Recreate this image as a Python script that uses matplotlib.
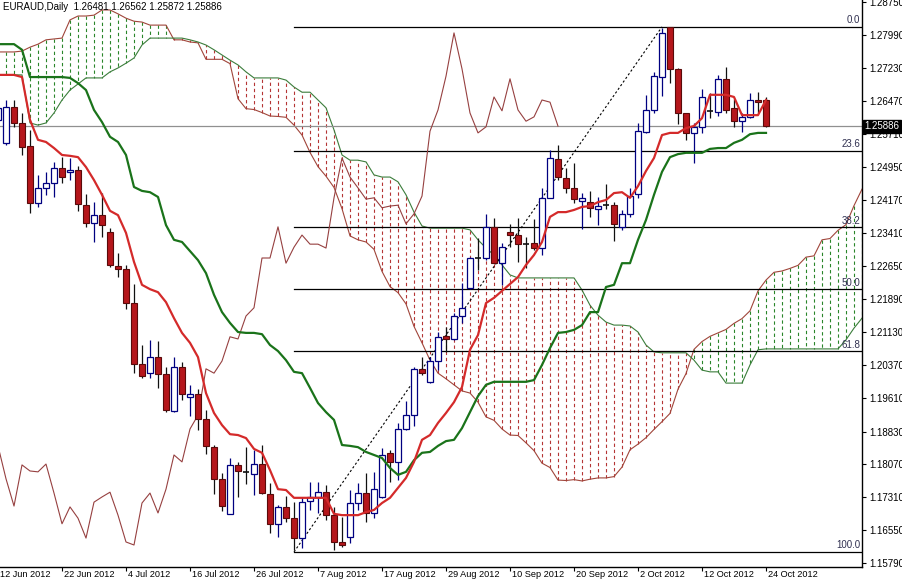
import matplotlib
matplotlib.use("Agg")
import matplotlib.pyplot as plt
import numpy as np
from matplotlib.patches import Rectangle
from matplotlib.collections import LineCollection
import matplotlib.transforms as mtransforms

plt.rcParams['font.family'] = ['Liberation Sans', 'DejaVu Sans']

symbol_text = "EURAUD,Daily  1.26481 1.26562 1.25872 1.25886"

opens = [1.2603, 1.2550, 1.2633, 1.2596, 1.2543, 1.2411, 1.2446, 1.2457, 1.2492, 1.2483,
         1.2487, 1.2406, 1.2365, 1.2383, 1.2344, 1.2266, 1.2259, 1.2180, 1.2039, 1.2018,
         1.2055, 1.2016, 1.1931, 1.2032, 1.1963, 1.1970, 1.1912, 1.1847, 1.1774, 1.1693,
         1.1806, 1.1790, 1.1785, 1.1808, 1.1739, 1.1670, 1.1709, 1.1683, 1.1637, 1.1723,
         1.1732, 1.1743, 1.1690, 1.1628, 1.1640, 1.1718, 1.1741, 1.1695, 1.1732, 1.1834,
         1.1813, 1.1889, 1.1921, 1.2028, 1.1998, 1.2046, 1.2104, 1.2097, 1.2150, 1.2215,
         1.2284, 1.2284, 1.2356, 1.2272, 1.2344, 1.2337, 1.2316, 1.2319, 1.2307, 1.2423,
         1.2513, 1.2469, 1.2446, 1.2416, 1.2413, 1.2397, 1.2406, 1.2406, 1.2356, 1.2386,
         1.2432, 1.2575, 1.2626, 1.2702, 1.2818, 1.2721, 1.2619, 1.2573, 1.2587, 1.2624,
         1.2621, 1.2698, 1.2631, 1.2600, 1.2610, 1.2649, 1.26481]
highs = [1.2649, 1.2649, 1.2649, 1.2619, 1.2580, 1.2476, 1.2483, 1.2506, 1.2517, 1.2515,
         1.2497, 1.2432, 1.2413, 1.2434, 1.2353, 1.2296, 1.2268, 1.2224, 1.2083, 1.2095,
         1.2092, 1.2032, 1.2055, 1.2044, 1.1991, 1.1981, 1.1933, 1.1852, 1.1787, 1.1822,
         1.1813, 1.1847, 1.1841, 1.1852, 1.1764, 1.1713, 1.1734, 1.1720, 1.1732, 1.1767,
         1.1767, 1.1760, 1.1709, 1.1686, 1.1748, 1.1764, 1.1787, 1.1790, 1.1845, 1.1841,
         1.1903, 1.1954, 1.2032, 1.2055, 1.2055, 1.2113, 1.2125, 1.2157, 1.2226, 1.2286,
         1.2330, 1.2386, 1.2376, 1.2319, 1.2363, 1.2376, 1.2333, 1.2374, 1.2446, 1.2534,
         1.2545, 1.2492, 1.2503, 1.2434, 1.2439, 1.2425, 1.2455, 1.2413, 1.2395, 1.2446,
         1.2596, 1.2661, 1.2714, 1.2815, 1.2818, 1.2723, 1.2619, 1.2596, 1.2674, 1.2665,
         1.2707, 1.2725, 1.2651, 1.2619, 1.2665, 1.2667, 1.26562]
lows = [1.2587, 1.2545, 1.2587, 1.2522, 1.2388, 1.2402, 1.2430, 1.2425, 1.2457, 1.2464,
        1.2393, 1.2356, 1.2321, 1.2333, 1.2263, 1.2240, 1.2166, 1.2018, 1.2007, 1.2007,
        1.1984, 1.1928, 1.1928, 1.1956, 1.1919, 1.1887, 1.1831, 1.1739, 1.1700, 1.1693,
        1.1732, 1.1762, 1.1737, 1.1739, 1.1649, 1.1640, 1.1674, 1.1610, 1.1614, 1.1702,
        1.1695, 1.1679, 1.1610, 1.1616, 1.1626, 1.1702, 1.1674, 1.1683, 1.1730, 1.1767,
        1.1771, 1.1887, 1.1896, 1.2014, 1.1995, 1.2025, 1.2067, 1.2095, 1.2134, 1.2212,
        1.2256, 1.2279, 1.2272, 1.2222, 1.2309, 1.2275, 1.2261, 1.2303, 1.2291, 1.2423,
        1.2464, 1.2434, 1.2411, 1.2351, 1.2379, 1.2360, 1.2397, 1.2323, 1.2349, 1.2379,
        1.2423, 1.2573, 1.2619, 1.2658, 1.2688, 1.2594, 1.2557, 1.2503, 1.2573, 1.2607,
        1.2612, 1.2619, 1.2587, 1.2575, 1.2607, 1.2619, 1.25872]
closes = [1.2631, 1.2633, 1.2596, 1.2540, 1.2411, 1.2446, 1.2457, 1.2492, 1.2471, 1.2487,
          1.2409, 1.2365, 1.2383, 1.2360, 1.2268, 1.2259, 1.2180, 1.2039, 1.2011, 1.2055,
          1.2016, 1.1933, 1.2032, 1.1970, 1.1970, 1.1912, 1.1850, 1.1774, 1.1711, 1.1806,
          1.1792, 1.1790, 1.1808, 1.1741, 1.1670, 1.1709, 1.1683, 1.1637, 1.1720, 1.1732,
          1.1743, 1.1690, 1.1628, 1.1621, 1.1718, 1.1741, 1.1695, 1.1750, 1.1829, 1.1813,
          1.1889, 1.1921, 1.2028, 1.2018, 1.2046, 1.2102, 1.2097, 1.2150, 1.2169, 1.2284,
          1.2284, 1.2356, 1.2272, 1.2309, 1.2337, 1.2316, 1.2316, 1.2307, 1.2423, 1.2515,
          1.2471, 1.2446, 1.2420, 1.2423, 1.2400, 1.2404, 1.2406, 1.2363, 1.2386, 1.2427,
          1.2577, 1.2626, 1.2704, 1.2804, 1.2721, 1.2619, 1.2573, 1.2587, 1.2656, 1.2624,
          1.2698, 1.2626, 1.2600, 1.2610, 1.2649, 1.2644, 1.25886]

tenkan = [1.2707, 1.2707, 1.2707, 1.2702, 1.2603, 1.2557, 1.2552, 1.2538, 1.2522, 1.2520,
          1.2517, 1.2494, 1.2464, 1.2430, 1.2393, 1.2383, 1.2342, 1.2275, 1.2222, 1.2212,
          1.2205, 1.2182, 1.2145, 1.2111, 1.2088, 1.2055, 1.1972, 1.1926, 1.1898, 1.1877,
          1.1875, 1.1868, 1.1843, 1.1834, 1.1794, 1.1750, 1.1748, 1.1730, 1.1730, 1.1730,
          1.1730, 1.1730, 1.1693, 1.1690, 1.1690, 1.1690, 1.1697, 1.1702, 1.1718, 1.1730,
          1.1753, 1.1776, 1.1813, 1.1864, 1.1875, 1.1903, 1.1926, 1.1951, 1.1986, 1.2072,
          1.2106, 1.2180, 1.2192, 1.2208, 1.2224, 1.2240, 1.2268, 1.2291, 1.2321, 1.2379,
          1.2390, 1.2390, 1.2395, 1.2402, 1.2404, 1.2413, 1.2418, 1.2434, 1.2436, 1.2423,
          1.2450, 1.2485, 1.2515, 1.2568, 1.2573, 1.2573, 1.2584, 1.2589, 1.2607, 1.2661,
          1.2661, 1.2661, 1.2656, 1.2614, 1.2614, 1.2614, 1.2649]
kijun = [1.2778, 1.2778, 1.2778, 1.2765, 1.2702, 1.2702, 1.2702, 1.2702, 1.2702, 1.2700,
         1.2688, 1.2672, 1.2626, 1.2598, 1.2564, 1.2552, 1.2522, 1.2448, 1.2439, 1.2436,
         1.2425, 1.2360, 1.2326, 1.2321, 1.2300, 1.2279, 1.2249, 1.2199, 1.2159, 1.2134,
         1.2113, 1.2111, 1.2111, 1.2108, 1.2083, 1.2069, 1.2048, 1.2021, 1.2018, 1.1984,
         1.1949, 1.1928, 1.1910, 1.1852, 1.1850, 1.1847, 1.1836, 1.1829, 1.1822, 1.1799,
         1.1783, 1.1790, 1.1817, 1.1834, 1.1836, 1.1850, 1.1861, 1.1864, 1.1891, 1.1928,
         1.1965, 1.1991, 1.1998, 1.1998, 1.1998, 1.1998, 1.1998, 1.2002, 1.2037, 1.2076,
         1.2111, 1.2113, 1.2118, 1.2129, 1.2159, 1.2159, 1.2217, 1.2222, 1.2272, 1.2272,
         1.2326, 1.2372, 1.2430, 1.2483, 1.2517, 1.2524, 1.2527, 1.2527, 1.2527, 1.2536,
         1.2538, 1.2538, 1.2550, 1.2557, 1.2570, 1.2573, 1.2573]

span_a = [1.2760, 1.2760, 1.2760, 1.2762, 1.2771, 1.2778, 1.2788, 1.2790, 1.2792, 1.2834,
          1.2843, 1.2843, 1.2845, 1.2857, 1.2857, 1.2848, 1.2838, 1.2831, 1.2829, 1.2822,
          1.2822, 1.2822, 1.2788, 1.2788, 1.2783, 1.2781, 1.2743, 1.2743, 1.2743, 1.2733,
          1.2652, 1.2629, 1.2627, 1.2620, 1.2612, 1.2611, 1.2609, 1.2591, 1.2568, 1.2528,
          1.2495, 1.2473, 1.2447, 1.2398, 1.2335, 1.2326, 1.2321, 1.2304, 1.2253, 1.2218,
          1.2204, 1.2178, 1.2126, 1.2088, 1.2048, 1.2018, 1.2005, 1.1991, 1.1977, 1.1972,
          1.1951, 1.1917, 1.1909, 1.1889, 1.1875, 1.1874, 1.1857, 1.1839, 1.1810, 1.1800,
          1.1771, 1.1770, 1.1772, 1.1769, 1.1773, 1.1776, 1.1776, 1.1779, 1.1801, 1.1841,
          1.1854, 1.1869, 1.1888, 1.1906, 1.1925, 1.1981, 1.2017, 1.2073, 1.2091, 1.2103,
          1.2111, 1.2119, 1.2133, 1.2144, 1.2162, 1.2208, 1.2233, 1.2251, 1.2254, 1.2260,
          1.2267, 1.2286, 1.2289, 1.2326, 1.2329, 1.2348, 1.2361, 1.2405, 1.2443]
span_b = [1.2707, 1.2707, 1.2707, 1.2707, 1.2596, 1.2591, 1.2596, 1.2619, 1.2649, 1.2672,
          1.2686, 1.2700, 1.2700, 1.2700, 1.2714, 1.2723, 1.2734, 1.2746, 1.2776, 1.2792,
          1.2792, 1.2792, 1.2792, 1.2792, 1.2788, 1.2783, 1.2776, 1.2765, 1.2753, 1.2741,
          1.2730, 1.2714, 1.2700, 1.2700, 1.2700, 1.2700, 1.2695, 1.2679, 1.2667, 1.2667,
          1.2649, 1.2631, 1.2580, 1.2522, 1.2510, 1.2510, 1.2506, 1.2476, 1.2471, 1.2471,
          1.2460, 1.2430, 1.2390, 1.2358, 1.2353, 1.2353, 1.2353, 1.2353, 1.2353, 1.2349,
          1.2326, 1.2307, 1.2291, 1.2268, 1.2245, 1.2238, 1.2238, 1.2238, 1.2238, 1.2238,
          1.2238, 1.2238, 1.2238, 1.2210, 1.2175, 1.2152, 1.2136, 1.2129, 1.2129, 1.2127,
          1.2113, 1.2083, 1.2067, 1.2065, 1.2065, 1.2065, 1.2065, 1.2048, 1.2025, 1.2021,
          1.2021, 1.1995, 1.1995, 1.1995, 1.2037, 1.2072, 1.2074, 1.2074, 1.2074, 1.2074,
          1.2074, 1.2074, 1.2074, 1.2074, 1.2074, 1.2074, 1.2095, 1.2122, 1.2145]
chikou_shift = 26

date_labels = ["12 Jun 2012", "22 Jun 2012", "4 Jul 2012", "16 Jul 2012", "26 Jul 2012",
               "7 Aug 2012", "17 Aug 2012", "29 Aug 2012", "10 Sep 2012", "20 Sep 2012",
               "2 Oct 2012", "12 Oct 2012", "24 Oct 2012"]
date_label_bars = [0, 8, 16, 24, 32, 40, 48, 56, 64, 72, 80, 88, 96]

price_ticks = [1.28750, 1.27990, 1.27230, 1.26470, 1.25710, 1.24950, 1.24170, 1.23410,
               1.22650, 1.21890, 1.21130, 1.20370, 1.19610, 1.18830, 1.18070, 1.17310,
               1.16550, 1.15790]

fib_high = 1.2818
fib_low = 1.1605
fib_levels = [0.0, 23.6, 38.2, 50.0, 61.8, 100.0]
fib_level_labels = ["0.0", "23.6", "38.2", "50.0", "61.8", "100.0"]
fib_start_bar = 37
fib_end_bar = 83

# ---------------------------------------------------------------
W, H = 903, 582
fig = plt.figure(figsize=(W / 100, H / 100), dpi=100)
fig.patch.set_facecolor('white')
ax = fig.add_axes([0, 15 / H, 862 / W, 567 / H])
ax.set_facecolor('white')
ax.set_xlim(0.25, 108.0)
ax.set_ylim(1.15702, 1.2880)

# cloud hatching
a = np.array(span_a)
b = np.array(span_b)
xc = np.arange(len(a))
green_segs = [[(i, a[i]), (i, b[i])] for i in xc if a[i] >= b[i]]
red_segs = [[(i, a[i]), (i, b[i])] for i in xc if a[i] < b[i]]
ax.add_collection(LineCollection(green_segs, colors='#2a862a', linewidths=0.8,
                                 linestyles=[(0, (3, 2.5))], zorder=1))
ax.add_collection(LineCollection(red_segs, colors='#b53535', linewidths=0.8,
                                 linestyles=[(0, (3, 2.5))], zorder=1))
ax.plot(xc, a, color='#a0453a', lw=0.8, zorder=1.5)
ax.plot(xc, b, color='#3b7d3b', lw=0.8, zorder=1.5)

# fibonacci
for lvl, lab in zip(fib_levels, fib_level_labels):
    p = fib_high - (fib_high - fib_low) * lvl / 100.0
    ax.plot([fib_start_bar, 109], [p, p], color='black', lw=0.9, zorder=2)
    ax.text(107.75, p + 0.0004, lab, ha='right', va='bottom', fontsize=7,
            color='#303050', zorder=2)
ax.plot([fib_start_bar, fib_end_bar], [fib_low, fib_high], color='black', lw=0.8,
        ls=(0, (2, 2)), zorder=2)

# current price line
ax.axhline(closes[-1], color='#909090', lw=0.9, zorder=2)

# chikou span
cl = np.array(closes)
ax.plot(np.arange(len(cl) - chikou_shift), cl[chikou_shift:], color='#964040',
        lw=0.8, zorder=3)

# candles
bw = 0.7
for i, (o, h, l, c) in enumerate(zip(opens, highs, lows, closes)):
    if c > o:
        ax.vlines(i, l, h, color='#000080', lw=0.9, zorder=4)
        ax.add_patch(Rectangle((i - bw / 2, o), bw, c - o, facecolor='white',
                               edgecolor='#000080', lw=0.9, zorder=5))
    elif c < o:
        ax.vlines(i, l, h, color='#101010', lw=0.9, zorder=4)
        ax.add_patch(Rectangle((i - bw / 2, c), bw, o - c, facecolor='#b5161b',
                               edgecolor='#5a0a0a', lw=0.8, zorder=5))
    else:
        ax.vlines(i, l, h, color='#101010', lw=0.9, zorder=4)
        ax.hlines(o, i - bw / 2, i + bw / 2, color='#101010', lw=1.2, zorder=5)

# tenkan / kijun
xb = np.arange(len(tenkan))
ax.plot(xb, kijun, color='#1a731a', lw=1.6, zorder=6, solid_joinstyle='round')
ax.plot(xb, tenkan, color='#d42a2a', lw=1.6, zorder=6, solid_joinstyle='round')

# axes styling
for s in ['top', 'left']:
    ax.spines[s].set_visible(False)
for s in ['bottom', 'right']:
    ax.spines[s].set_color('black')
    ax.spines[s].set_linewidth(1.0)
ax.yaxis.tick_right()
ax.set_yticks(price_ticks)
ax.set_yticklabels([f"{p:.5f}" for p in price_ticks])
ax.tick_params(axis='y', length=3, width=0.8, pad=2, labelsize=7, direction='out')
ax.set_xticks(date_label_bars[1:])
ax.set_xticklabels([])
ax.tick_params(axis='x', length=3, width=0.8, direction='out')

blend = mtransforms.blended_transform_factory(ax.transData, ax.transAxes)
for idx, lab in zip(date_label_bars, date_labels):
    ax.text(idx + 0.3, -3 / 567, lab, transform=blend, ha='left', va='top',
            fontsize=6.6, clip_on=False)

blend_y = mtransforms.blended_transform_factory(ax.transAxes, ax.transData)
ax.text(1.003, closes[-1], f"{closes[-1]:.5f}", transform=blend_y, ha='left',
        va='center', fontsize=7, color='white', zorder=20, clip_on=False,
        bbox=dict(boxstyle='square,pad=0.15', fc='black', ec='black'))

ax.text(3 / 862, 1 - 7 / 567, symbol_text, transform=ax.transAxes, ha='left',
        va='center', fontsize=7, color='black', zorder=20)

fig.savefig('out.png', dpi=100, facecolor='white')
